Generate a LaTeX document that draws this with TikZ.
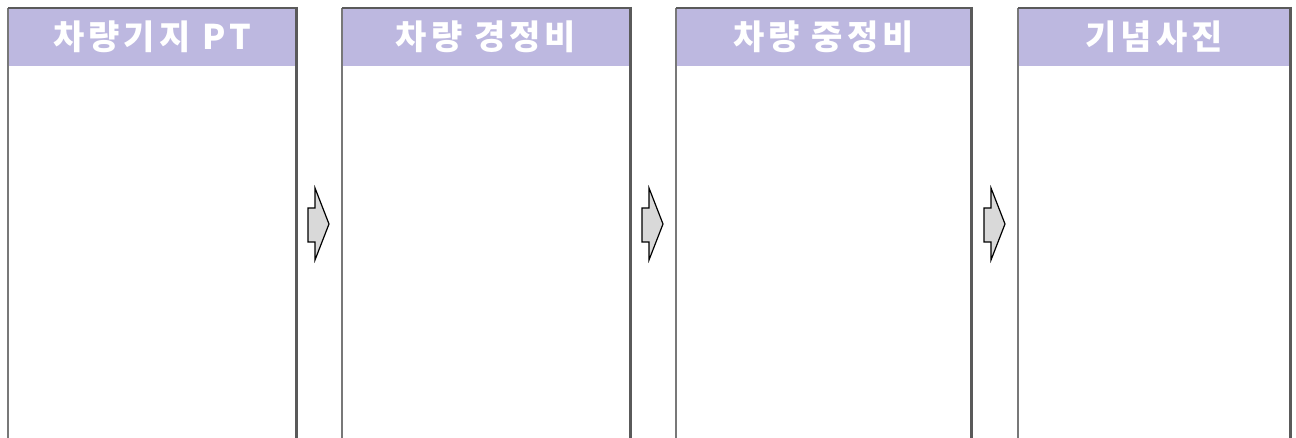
\documentclass[tikz,border=0pt]{standalone}
\usepackage{fontspec}
\newfontfamily\krfont[LetterSpace=12]{Noto Sans CJK KR}
\definecolor{headfill}{RGB}{189,184,224}
\definecolor{edgeleft}{RGB}{120,120,120}
\definecolor{edgeright}{RGB}{90,90,90}
\definecolor{arrowfill}{RGB}{217,217,217}
\tikzset{
  headtext/.style={text=white,font=\krfont\bfseries\fontsize{34}{34}\selectfont,inner sep=0pt},
  flowarrow/.style={draw=black,fill=arrowfill,line width=1.2pt,line join=miter}
}
\begin{document}
\begin{tikzpicture}[x=1pt,y=-1pt]
\useasboundingbox (0,0) rectangle (1296,438);
\foreach \l/\r/\name/\title in {8/296/base/{차량기지 PT},342/630/light/{차량 경정비},676/971/heavy/{차량 중정비},1018/1290/photo/{기념사진}}{
\fill[color=headfill] (\l,8) rectangle (\r,66);
\node[headtext] (\name) at ({(\l+\r)/2},37) {\title};
\draw[color=edgeleft,line width=2pt] (\l,440)--(\l,8);
\draw[color=edgeright,line width=2pt] (\l,8)--(\r,8);
\draw[color=edgeright,line width=3pt] (\r,7)--(\r,440);
}
\foreach \x in {308,642,984}{
\draw[flowarrow] (\x,208)--(\x+7,208)--(\x+7,188)--(\x+21,224)--(\x+7,260)--(\x+7,242)--(\x,242)--cycle;
}
\end{tikzpicture}
\end{document}
